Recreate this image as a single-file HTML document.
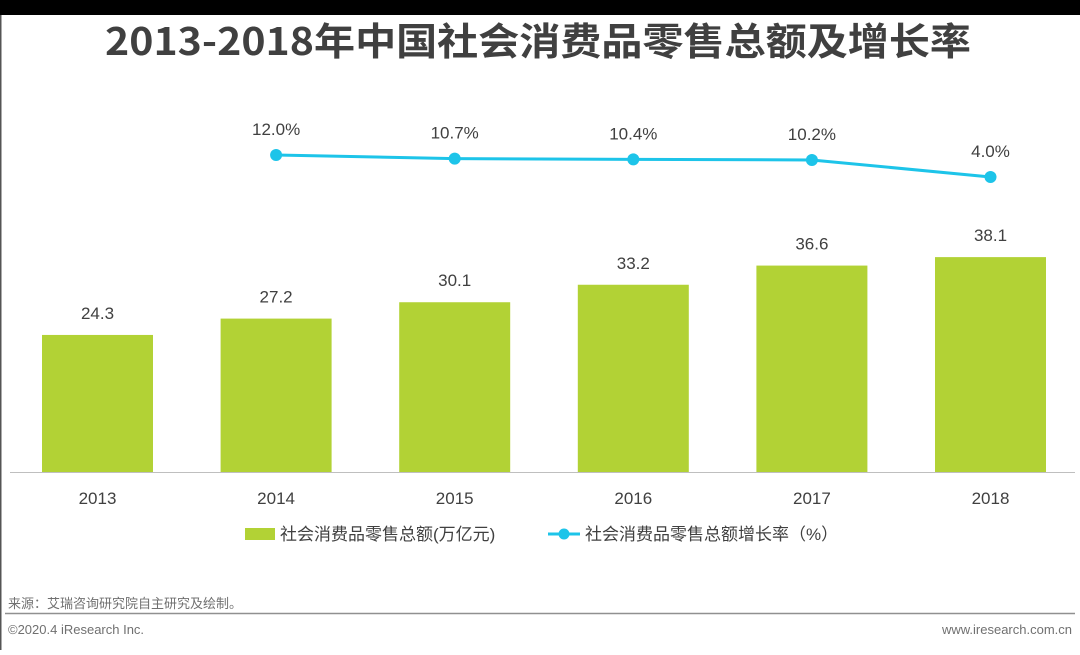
<!DOCTYPE html>
<html><head><meta charset="utf-8"><style>
body{margin:0;width:1080px;height:650px;background:#fff;overflow:hidden;font-family:"Liberation Sans","Noto Sans CJK SC",sans-serif;}
</style></head><body>
<svg width="1080" height="650" xmlns="http://www.w3.org/2000/svg">
<rect x="0" y="0" width="1080" height="15" fill="#000"/>
<rect x="0" y="15" width="1.5" height="635" fill="#555"/>
<text x="538" y="55" text-anchor="middle" font-size="38" font-weight="bold" fill="#404040" font-family="'Noto Sans CJK SC',sans-serif" textLength="866" lengthAdjust="spacingAndGlyphs">2013-2018年中国社会消费品零售总额及增长率</text>
<g id="bars"></g><g id="line"></g>
<line x1="10" y1="472.5" x2="1075" y2="472.5" stroke="#bfbfbf" stroke-width="1"/>
<g>
<rect x="245" y="528" width="30" height="12" fill="#b2d235"/>
<text x="280" y="540" font-size="17" fill="#404040">社会消费品零售总额(万亿元)</text>
<line x1="548" y1="534" x2="580" y2="534" stroke="#1dc4e9" stroke-width="3"/>
<circle cx="564" cy="534" r="5.5" fill="#1dc4e9"/>
<text x="585" y="540" font-size="17" fill="#404040">社会消费品零售总额增长率（%）</text>
</g>
<text x="8" y="608" font-size="13" fill="#707070">来源：艾瑞咨询研究院自主研究及绘制。</text>
<line x1="5" y1="613.5" x2="1075" y2="613.5" stroke="#909090" stroke-width="1.5"/>
<text x="8" y="634" font-size="13" fill="#707070">©2020.4 iResearch Inc.</text>
<text x="1072" y="634" text-anchor="end" font-size="13" fill="#707070">www.iresearch.com.cn</text>
</svg>
<script>
const years=["2013","2014","2015","2016","2017","2018"];
const sales=[24.3,27.2,30.1,33.2,36.6,38.1];
const growthYears=["2014","2015","2016","2017","2018"];
const growth=[12.0,10.7,10.4,10.2,4.0];
const NS="http://www.w3.org/2000/svg";
const xc=i=>97.5+i*178.6;
const yBar=v=>472-v*5.64;
const yLine=v=>188-v*2.75;
function mk(t,a,txt){const e=document.createElementNS(NS,t);for(const k in a)e.setAttribute(k,a[k]);if(txt!=null)e.textContent=txt;return e;}
const gb=document.getElementById('bars');
years.forEach((y,i)=>{
 const r=mk('rect',{x:xc(i)-55.5,y:yBar(sales[i]),width:111,height:472-yBar(sales[i]),fill:'#b2d235'});
 
 
 gb.appendChild(r);
 const t=mk('text',{x:xc(i),y:yBar(sales[i])-16,'text-anchor':'middle','font-size':17,fill:'#404040'},sales[i].toFixed(1));
 
 
 gb.appendChild(t);
 const l=mk('text',{x:xc(i),y:504,'text-anchor':'middle','font-size':17,fill:'#404040'},y);
 
 
 gb.appendChild(l);
});
const gl=document.getElementById('line');
const idx=y=>years.indexOf(y);
const pts=growthYears.map((y,i)=>xc(idx(y))+','+yLine(growth[i])).join(' ');
const pl=mk('polyline',{points:pts,fill:'none',stroke:'#1dc4e9','stroke-width':3});


gl.appendChild(pl);
growthYears.forEach((y,i)=>{
 const c=mk('circle',{cx:xc(idx(y)),cy:yLine(growth[i]),r:6,fill:'#1dc4e9'});
 
 
 gl.appendChild(c);
 const t=mk('text',{x:xc(idx(y)),y:yLine(growth[i])-20,'text-anchor':'middle','font-size':17,fill:'#404040'},growth[i].toFixed(1)+'%');
 
 
 gl.appendChild(t);
});
</script>
</body></html>
